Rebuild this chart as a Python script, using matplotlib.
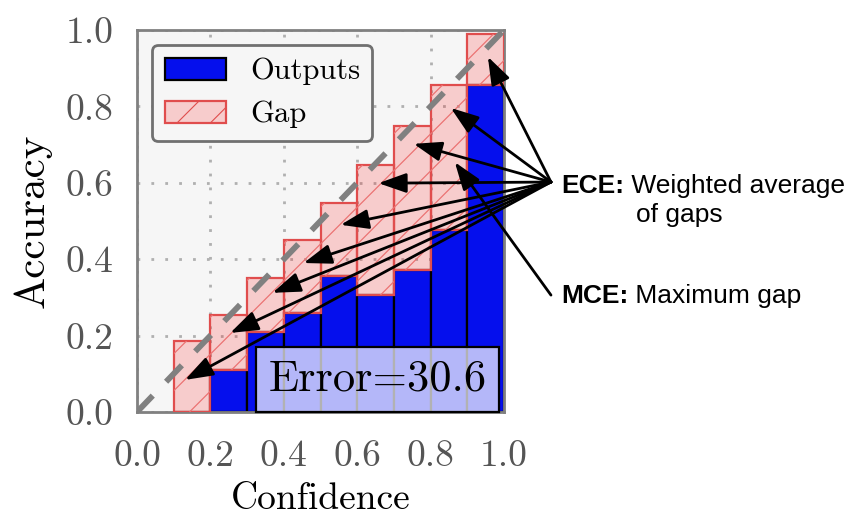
import matplotlib
matplotlib.use("Agg")
import matplotlib.pyplot as plt
from matplotlib.collections import LineCollection
from matplotlib.patches import Patch
import numpy as np

# ---- data ----
bin_lefts = [0.1, 0.2, 0.3, 0.4, 0.5, 0.6, 0.7, 0.8, 0.9]
accuracy = [0.0, 0.11, 0.21, 0.26, 0.355, 0.305, 0.372, 0.477, 0.856]
confidence = [0.185, 0.255, 0.35, 0.45, 0.548, 0.647, 0.749, 0.855, 0.99]
ticks = [0.0, 0.2, 0.4, 0.6, 0.8, 1.0]
tick_labels = ["0.0", "0.2", "0.4", "0.6", "0.8", "1.0"]
error_value = 30.6
# arrow tips (data coords) and sources
ece_targets = [(0.956, 0.930), (0.855, 0.796), (0.754, 0.702), (0.658, 0.599),
               (0.555, 0.490), (0.454, 0.390), (0.369, 0.312), (0.254, 0.207),
               (0.131, 0.084)]
mce_target = (0.866, 0.654)
ece_source = (1.128, 0.602)
mce_source = (1.128, 0.306)

plt.rcParams['hatch.linewidth'] = 0.8
plt.rcParams['axes.unicode_minus'] = False

W, H = 855, 521
fig = plt.figure(figsize=(W / 100, H / 100), dpi=100)
ax_px = (137, 30, 504, 412)  # left, top, right, bottom in pixels
ax = fig.add_axes([ax_px[0] / W, 1 - ax_px[3] / H,
                   (ax_px[2] - ax_px[0]) / W, (ax_px[3] - ax_px[1]) / H])
bg = '#f6f6f6'
ax.set_facecolor(bg)

serif = 'cmr10'
sans = 'Liberation Sans'

ax.set_axisbelow(True)
ax.grid(True, linestyle=(0, (1, 4)), color='#b0b0b0', linewidth=2)

gaps = [c - a for c, a in zip(confidence, accuracy)]
blue = (0.02, 0.06, 0.93)
pink_fc = (1.0, 0.0, 0.0, 0.17)
red_ec = (0.88, 0.3, 0.3)
ax.bar(bin_lefts, accuracy, width=0.1, align='edge', color=blue,
       edgecolor='black', linewidth=1.6, zorder=2)
gap_bars = ax.bar(bin_lefts, gaps, bottom=accuracy, width=0.1, align='edge',
                  facecolor=pink_fc, edgecolor=red_ec, linewidth=1.6, zorder=3)

# sparse 45-degree hatch lines (texture) clipped to each gap bar
xpx = ax_px[2] - ax_px[0]
ypx = ax_px[3] - ax_px[1]
slope = xpx / ypx            # data-units slope that is 45 deg on screen
spacing = 37.0 / xpx
offs = np.arange(-1.5, 1.5, spacing) + 0.03
segs = [[(o, 0.0), (o + 1.0 / slope, 1.0)] for o in offs]
for rect in gap_bars:
    lc = LineCollection(segs, colors=[(0.92, 0.45, 0.45)], linewidths=0.9,
                        zorder=3.1)
    ax.add_collection(lc)
    lc.set_clip_path(rect)

ax.plot([0, 1], [0, 1], color='gray', linewidth=4.2, dashes=[3.9, 3.3],
        zorder=4)

ax.set_xlim(0, 1)
ax.set_ylim(0, 1)
ax.set_xticks(ticks)
ax.set_yticks(ticks)
ax.set_xticklabels(tick_labels, fontfamily=serif, fontsize=27, color='#555555')
ax.set_yticklabels(tick_labels, fontfamily=serif, fontsize=27, color='#555555')
ax.tick_params(axis='y', length=0, pad=17)
ax.tick_params(axis='x', length=0, pad=20)
for s in ax.spines.values():
    s.set_color('#808080')
    s.set_linewidth(2)

ax.set_xlabel('Confidence', fontfamily=serif, fontsize=27, labelpad=7)
ax.set_ylabel('Accuracy', fontfamily=serif, fontsize=31, labelpad=10)

handles = [Patch(facecolor=blue, edgecolor='black', linewidth=1.6, label='Outputs'),
           Patch(facecolor=pink_fc, edgecolor=red_ec, linewidth=1.6, hatch='/',
                 label='Gap')]
leg = ax.legend(handles=handles, loc='upper left', prop={'family': serif, 'size': 22},
                handlelength=2.0, handleheight=0.75, handletextpad=0.8,
                borderaxespad=0.5, fancybox=True, framealpha=1.0,
                facecolor=bg, edgecolor='#707070')
leg.get_frame().set_linewidth(2)

ax.text(0.656, 0.085, 'Error=%.1f' % error_value, transform=ax.transData,
        ha='center', va='center', fontfamily=serif, fontsize=32, zorder=6,
        bbox=dict(boxstyle='square,pad=0.28', facecolor=(1, 1, 1, 0.7),
                  edgecolor='black', linewidth=1.6))

astyle = dict(arrowstyle='-|>,head_length=0.85,head_width=0.3', color='black',
              lw=2.0, mutation_scale=20, shrinkA=0, shrinkB=0)
for t in ece_targets:
    ax.annotate('', xy=t, xytext=ece_source, xycoords='data',
                arrowprops=astyle, annotation_clip=False, zorder=7)
ax.annotate('', xy=mce_target, xytext=mce_source, xycoords='data',
            arrowprops=astyle, annotation_clip=False, zorder=7)

fs = 19
t1 = ax.text(1.155, 0.573, 'ECE:', fontfamily=sans, fontweight='bold',
             fontsize=fs, va='baseline', ha='left')
ax.annotate(' Weighted average', xy=(1, 0), xycoords=t1, va='bottom', ha='left',
            fontfamily=sans, fontsize=fs)
ax.text(1.36, 0.497, 'of gaps', fontfamily=sans, fontsize=fs,
        va='baseline', ha='left')
t2 = ax.text(1.155, 0.285, 'MCE:', fontfamily=sans, fontweight='bold',
             fontsize=fs, va='baseline', ha='left')
ax.annotate(' Maximum gap', xy=(1, 0), xycoords=t2, va='bottom', ha='left',
            fontfamily=sans, fontsize=fs)

fig.savefig('out.png', dpi=100)
